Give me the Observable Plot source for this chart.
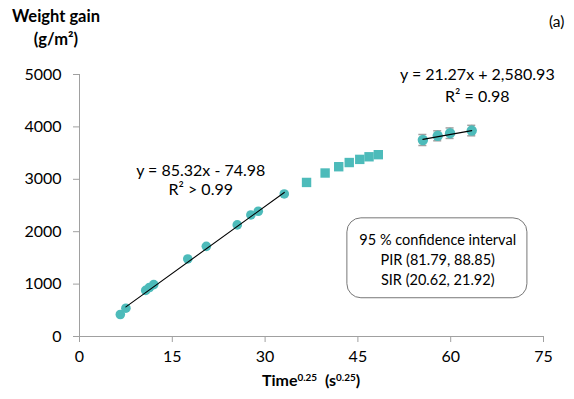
<!DOCTYPE html>
<html><head><meta charset="utf-8">
<script src="https://cdn.jsdelivr.net/npm/d3@7"></script>
<script src="https://cdn.jsdelivr.net/npm/@observablehq/plot@0.6"></script>
<style>
html,body{margin:0;padding:0;background:#fff;}
#wrap{position:relative;width:574px;height:399px;font-family:Lato,"Open Sans",sans-serif;color:#000;}
.lbl{position:absolute;white-space:nowrap;}
sup{font-size:0.62em;vertical-align:0;position:relative;top:-0.55em;}
</style></head>
<body>
<div id="wrap">
  <div class="lbl" style="left:0;width:112px;text-align:center;top:5px;font-weight:bold;font-size:16.5px;line-height:23px;">Weight gain<br>(g/m²)</div>
  <div class="lbl" style="left:549px;top:12px;font-size:15.5px;">(a)</div>
  <div class="lbl" style="left:79px;width:464px;text-align:center;top:370px;font-weight:bold;font-size:16px;">Time<sup>0.25</sup>&nbsp; (s<sup>0.25</sup>)</div>
</div>
<script>
// Phase 1: linear (parabolic-rate) region
const linearTime = [6.6, 7.5, 10.7, 11.3, 12.0, 17.5, 20.5, 25.5, 27.7, 28.9, 33.1];
const linearGain = [420, 540, 880, 935, 990, 1480, 1720, 2130, 2320, 2390, 2720];
// Transition region
const transTime = [36.7, 39.7, 41.9, 43.6, 45.3, 46.8, 48.3];
const transGain = [2940, 3120, 3240, 3320, 3380, 3430, 3470];
// Late linear region with error bars
const lateTime = [55.5, 57.9, 59.9, 63.4];
const lateGain = [3750, 3830, 3880, 3930];
const lateErr = [105, 95, 100, 100];

const fit1 = {slope: 85.32, intercept: -74.98, eq: "y = 85.32x - 74.98", r2: "R² > 0.99"};
const fit2 = {slope: 21.27, intercept: 2580.93, eq: "y = 21.27x + 2,580.93", r2: "R² = 0.98"};
const ciLines = ["95 % confidence interval", "PIR (81.79, 88.85)", "SIR (20.62, 21.92)"];

const xTicks = [0, 15, 30, 45, 60, 75];
const yTicks = [0, 1000, 2000, 3000, 4000, 5000];

const teal = "#4DBBBA";
const grey = "#a0a0a0";

const linear = linearTime.map((t, i) => ({t, g: linearGain[i]}));
const trans = transTime.map((t, i) => ({t, g: transGain[i]}));
const late = lateTime.map((t, i) => ({t, g: lateGain[i], e: lateErr[i]}));

const fitLine = (fit, ts) => d3.extent(ts).map(t => ({t, g: fit.slope * t + fit.intercept}));
const line1 = fitLine(fit1, linearTime.slice(1));
const line2 = fitLine(fit2, lateTime);

const fmt = d => String(d);

const chart = Plot.plot({
  width: 574, height: 399,
  marginLeft: 79, marginRight: 31, marginTop: 74, marginBottom: 63,
  style: {fontFamily: "Lato, 'Open Sans', sans-serif", fontSize: "16px", background: "transparent", color: "#000"},
  x: {domain: [0, 75], label: null},
  y: {domain: [0, 5000], label: null},
  marks: [
    Plot.axisX({ticks: xTicks, tickFormat: fmt, tickSize: 6, tickPadding: 8, stroke: grey, color: "#000", label: null, fontSize: 16}),
    Plot.axisY({ticks: yTicks, tickFormat: fmt, tickSize: 6, tickPadding: 12, stroke: grey, color: "#000", label: null, fontSize: 16}),
    Plot.ruleX([0], {stroke: grey, strokeWidth: 1}),
    Plot.ruleY([0], {stroke: grey, strokeWidth: 1}),
    // CI box
    Plot.rect([0], {x1: 43.3, x2: 72.4, y1: 730, y2: 2255, rx: 14, fill: "white", stroke: "#777", strokeWidth: 1}),
    Plot.text(ciLines, {x: 57.9, y: (d, i) => 1830 - i * 380, text: d => d, fontSize: 14.5}),
    // error bars (late)
    Plot.ruleX(late, {x: "t", y1: d => d.g - d.e, y2: d => d.g + d.e, stroke: grey, strokeWidth: 1.2}),
    Plot.ruleY(late, {y: d => d.g - d.e, x1: d => d.t - 0.65, x2: d => d.t + 0.65, stroke: grey, strokeWidth: 1.5}),
    Plot.ruleY(late, {y: d => d.g + d.e, x1: d => d.t - 0.65, x2: d => d.t + 0.65, stroke: grey, strokeWidth: 1.5}),
    // points
    Plot.dot(linear, {x: "t", y: "g", r: 4.8, fill: teal, stroke: "none"}),
    Plot.dot(trans, {x: "t", y: "g", r: 5.3, symbol: "square", fill: teal, stroke: "none"}),
    Plot.dot(late, {x: "t", y: "g", r: 5.2, fill: teal, stroke: "none"}),
    // fit lines
    Plot.line(line1, {x: "t", y: "g", stroke: "#000", strokeWidth: 1.1}),
    Plot.line(line2, {x: "t", y: "g", stroke: "#000", strokeWidth: 1.1}),
    // equations
    Plot.text([fit1.eq], {x: 19.6, y: 3170, text: d => d, fontSize: 16}),
    Plot.text([fit1.r2], {x: 19.6, y: 2790, text: d => d, fontSize: 16}),
    Plot.text([fit2.eq], {x: 64.3, y: 4995, text: d => d, fontSize: 16}),
    Plot.text([fit2.r2], {x: 64.3, y: 4580, text: d => d, fontSize: 16})
  ]
});
document.getElementById("wrap").prepend(chart);
chart.style.position = "absolute";
chart.style.left = "0";
chart.style.top = "0";
</script>
</body></html>
